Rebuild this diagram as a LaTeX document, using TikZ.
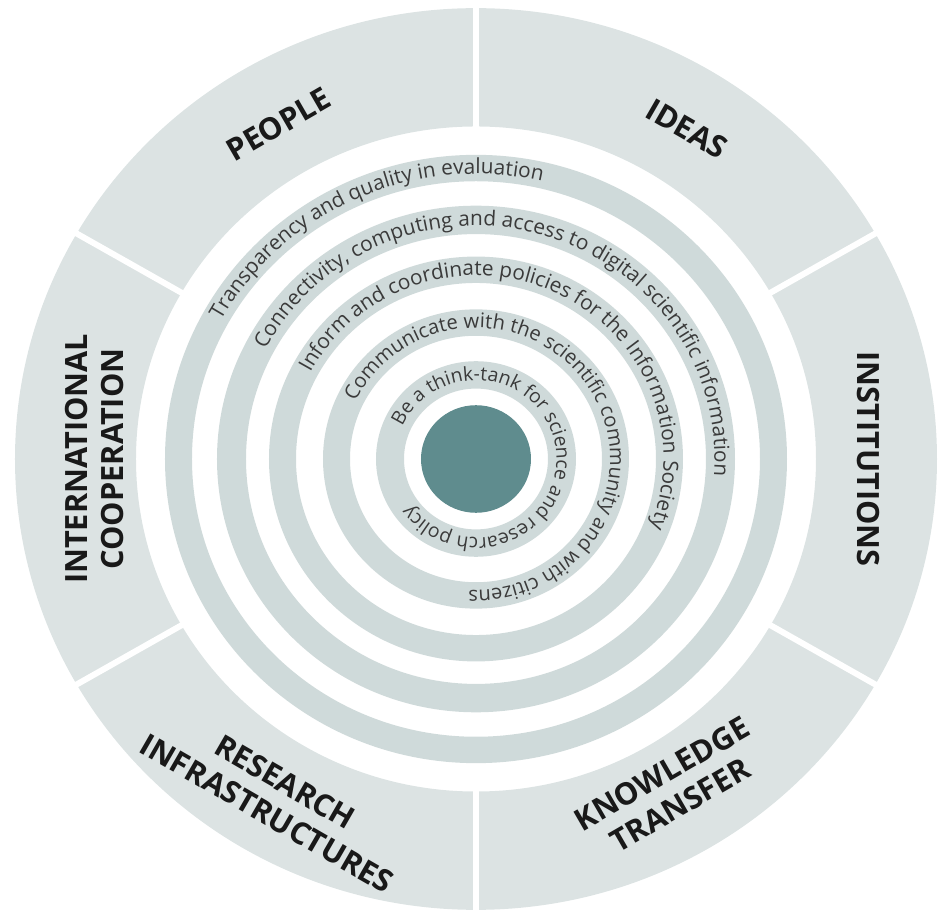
\documentclass[tikz,border=0pt]{standalone}
\usepackage{fontspec}
\setmainfont{Open Sans}
\usetikzlibrary{calc, positioning}
\usetikzlibrary{decorations.text}
\definecolor{bandgray}{HTML}{DCE3E3}
\definecolor{ringgray}{HTML}{CFDADA}
\definecolor{coreteal}{HTML}{5F8C8E}
\definecolor{ringtext}{HTML}{3A3A3A}
\tikzset{
  pillar/.style={font=\bfseries\fontsize{23}{27}\selectfont, text=black!90,
    align=center, inner sep=0pt},
  ringlabel/.style 2 args={decorate, decoration={text along path, text color=ringtext,
    text={|\fontsize{#1}{#1}\selectfont|#2}}},
}
\begin{document}
\begin{tikzpicture}[x=0.75pt,y=0.75pt]
\useasboundingbox (-476,-454) rectangle (463,459);
\def\bandin{340}
\def\bandout{461}
\begin{scope}[yscale=0.978]
\coordinate (Core) at (0,0);
% outer band with six pillars
\fill[bandgray, even odd rule] (Core) circle[radius=\bandout] circle[radius=\bandin];
\foreach \a in {30,90,...,330}
  \draw[white, line width=4.5pt] (\a:\bandin-2) -- (\a:\bandout+2);
% five rings
\foreach \rin/\rout in {284/311, 230/259, 180/207, 126/153, 72/100}
  \fill[ringgray, even odd rule] (Core) circle[radius=\rout] circle[radius=\rin];
\fill[coreteal] (Core) circle[radius=55];

\path[ringlabel={15.6}{Transparency and quality in evaluation}]
  (151:291.5) arc[start angle=151, end angle=40, radius=291.5];
\path[ringlabel={15.6}{Connectivity, computing and access to digital scientific information}]
  (152:238.5) arc[start angle=152, end angle=-40, radius=238.5];
\path[ringlabel={15.6}{Inform and coordinate policies for the Information Society}]
  (152:187.5) arc[start angle=152, end angle=-60, radius=187.5];
\path[ringlabel={15.1}{Communicate with the scientific community and with citizens}]
  (154:134) arc[start angle=154, end angle=-130, radius=134];
\path[ringlabel={14.5}{Be a think-tank for science and research policy}]
  (156:80.5) arc[start angle=156, end angle=-185, radius=80.5];

\node[pillar, rotate=30] (People) at (120:395) {PEOPLE};
\node[pillar, rotate=-30] (Ideas) at (58:398) {IDEAS};
\node[pillar, rotate=-90] (Institutions) at (0:392) {INSTITUTIONS};
\node[pillar, rotate=30] (Knowledge) at (300:390) {KNOWLEDGE\\TRANSFER};
\node[pillar, rotate=-30] (Research) at (240:400) {RESEARCH\\INFRASTRUCTURES};
\node[pillar, rotate=90] (International) at (180:381) {INTERNATIONAL\\COOPERATION};
\end{scope}
\end{tikzpicture}
\end{document}
